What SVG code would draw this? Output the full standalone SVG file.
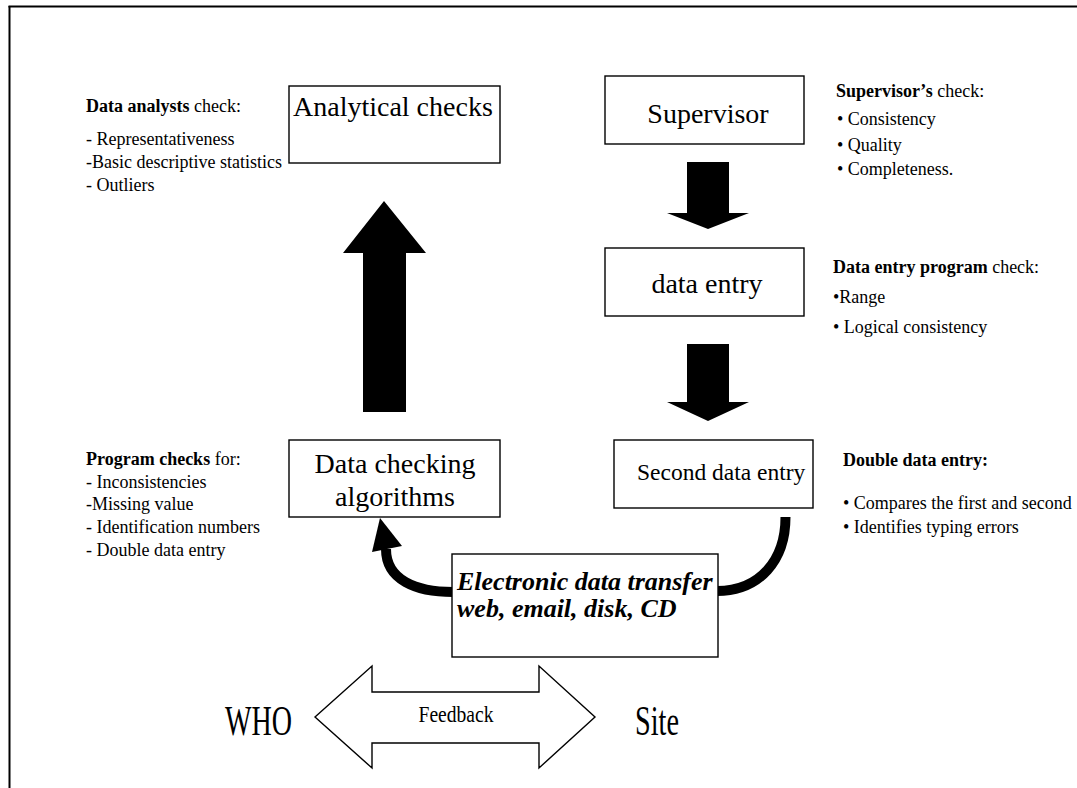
<svg xmlns="http://www.w3.org/2000/svg" width="1077" height="788" viewBox="0 0 1077 788">
<style>
.box{fill:#fff;stroke:#000;stroke-width:1.4}
.t{font-family:"Liberation Serif","Times New Roman",serif;fill:#000}
.s{font-size:18px}
.b{font-weight:bold}
.big{font-size:28px}
.blk{fill:#000;stroke:none}
.band{fill:none;stroke:#000;stroke-width:10}
</style>
<rect width="1077" height="788" fill="#fff"/>
<g id="frame">
<line x1="9.5" y1="6" x2="9.5" y2="788" stroke="#000" stroke-width="2"/>
<line x1="8.5" y1="6.5" x2="1077" y2="6.5" stroke="#000" stroke-width="2"/>
</g>
<g id="connectors">
<polygon class="blk" points="384,201 426,253 406,253 406,412 363,412 363,253 343,253"/>
<polygon class="blk" points="687,162 729,162 729,213 749,213 708,229 667,213 687,213"/>
<polygon class="blk" points="687,344 729,344 729,402 749,402 708,421 667,402 687,402"/>
<path class="band" d="M453,592 C416,592 386,580 386,549"/>
<polygon class="blk" points="380,518 402,546 372,552"/>
<path class="band" d="M785.5,517 C785.5,560 760,591 717,591"/>
</g>
<g id="analytical-checks">
<rect class="box" x="289" y="86" width="211" height="77"/>
<text class="t big" x="293" y="116">Analytical checks</text>
</g>
<g id="analysts-note">
<text class="t s" x="86" y="112"><tspan class="b">Data analysts</tspan> check:</text>
<text class="t s" x="86" y="145">- Representativeness</text>
<text class="t s" x="86" y="168">-Basic descriptive statistics</text>
<text class="t s" x="86" y="191">- Outliers</text>
</g>
<g id="supervisor">
<rect class="box" x="605" y="76" width="199" height="68"/>
<text class="t big" x="708" y="123" text-anchor="middle">Supervisor</text>
</g>
<g id="supervisor-note">
<text class="t s" x="836" y="97"><tspan class="b">Supervisor’s</tspan> check:</text>
<text class="t s" x="837" y="125">• Consistency</text>
<text class="t s" x="837" y="151">• Quality</text>
<text class="t s" x="837" y="175">• Completeness.</text>
</g>
<g id="data-entry">
<rect class="box" x="605" y="248" width="199" height="68"/>
<text class="t big" x="707" y="293" text-anchor="middle">data entry</text>
</g>
<g id="data-entry-note">
<text class="t s" x="833" y="273"><tspan class="b">Data entry program</tspan> check:</text>
<text class="t s" x="833" y="303">•Range</text>
<text class="t s" x="833" y="333">• Logical consistency</text>
</g>
<g id="second-data-entry">
<rect class="box" x="614" y="440" width="199" height="68"/>
<text class="t" x="637" y="480" font-size="23.5">Second data entry</text>
</g>
<g id="double-entry-note">
<text class="t s b" x="843" y="466">Double data entry:</text>
<text class="t s" x="843" y="509">• Compares  the first and second</text>
<text class="t s" x="843" y="533">• Identifies typing errors</text>
</g>
<g id="data-checking">
<rect class="box" x="289" y="440" width="211" height="77"/>
<text class="t big" x="395" y="473" text-anchor="middle">Data checking</text>
<text class="t big" x="395" y="506" text-anchor="middle">algorithms</text>
</g>
<g id="program-note">
<text class="t s" x="86" y="465"><tspan class="b">Program checks</tspan> for:</text>
<text class="t s" x="86" y="488">- Inconsistencies</text>
<text class="t s" x="86" y="510">-Missing value</text>
<text class="t s" x="86" y="533">- Identification numbers</text>
<text class="t s" x="86" y="556">- Double data entry</text>
</g>
<g id="transfer">
<rect class="box" x="452" y="554" width="266" height="103"/>
<text class="t b" font-style="italic" font-size="26" x="457" y="590">Electronic data transfer</text>
<text class="t b" font-style="italic" font-size="26" x="457" y="617">web, email, disk, CD</text>
</g>
<g id="feedback">
<polygon class="box" points="315,717 372,666 372,692 539,692 539,666 595,717 539,768 539,743 372,743 372,768"/>
<text class="t" font-size="24" x="418.5" y="722" textLength="75" lengthAdjust="spacingAndGlyphs">Feedback</text>
</g>
<g id="who">
<text class="t" font-size="43" x="225" y="735" textLength="67" lengthAdjust="spacingAndGlyphs">WHO</text>
</g>
<g id="site">
<text class="t" font-size="43" x="635" y="735" textLength="44" lengthAdjust="spacingAndGlyphs">Site</text>
</g>
</svg>
